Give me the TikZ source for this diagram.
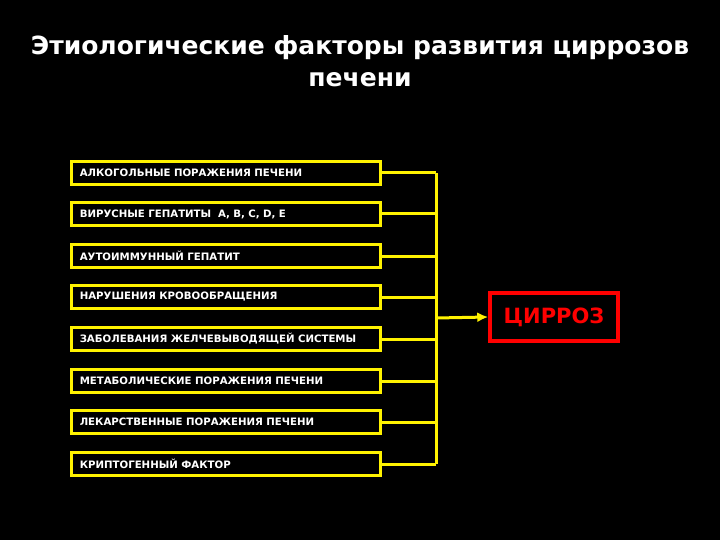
\documentclass[tikz,border=0pt]{standalone}
\usepackage{fontspec}
\setmainfont{DejaVu Sans}
\usetikzlibrary{arrows.meta}
\begin{document}
\begin{tikzpicture}[x=1pt,y=-1pt,
  fbox/.style={draw=yellow,line width=2.5pt,minimum width=309pt,minimum height=23pt,anchor=west,inner sep=0pt,
    font=\fontsize{10.2}{11}\selectfont\bfseries,text=white,align=left,text width=300pt},
  bus/.style={draw=yellow,line width=3pt}]
\fill[black] (0,0) rectangle (720,540);
\useasboundingbox (0,0) rectangle (720,540);
\node[text=white,font=\fontsize{25}{32}\selectfont\bfseries,align=center] (title) at (360,61) {Этиологические факторы развития циррозов\\печени};
\foreach \i/\y/\t in {1/173/АЛКОГОЛЬНЫЕ ПОРАЖЕНИЯ ПЕЧЕНИ,2/214/ВИРУСНЫЕ ГЕПАТИТЫ\ \ A{,} B{,} C{,} D{,} E,3/256/АУТОИММУННЫЙ ГЕПАТИТ,4/297/НАРУШЕНИЯ КРОВООБРАЩЕНИЯ,5/339/ЗАБОЛЕВАНИЯ ЖЕЛЧЕВЫВОДЯЩЕЙ СИСТЕМЫ,6/381/МЕТАБОЛИЧЕСКИЕ ПОРАЖЕНИЯ ПЕЧЕНИ,7/422/ЛЕКАРСТВЕННЫЕ ПОРАЖЕНИЯ ПЕЧЕНИ,8/464/КРИПТОГЕННЫЙ ФАКТОР}{
  \node[fbox] (b\i) at (70,\y) {\hspace*{4pt}\t};
  \coordinate (j\i) at (436,\y);
  \draw[bus] (b\i.east) -- (j\i);
}
\draw[bus] (j1) -- (j8);
\node[draw=red,line width=3.5pt,minimum width=128pt,minimum height=48pt,text=red,font=\fontsize{21}{22}\selectfont\bfseries] (c) at (554,317) {ЦИРРОЗ};
\coordinate (m) at (436,318);
\draw[bus,-{Latex[length=11pt,width=10pt]}] (m) -- (c.west);
\end{tikzpicture}
\end{document}
